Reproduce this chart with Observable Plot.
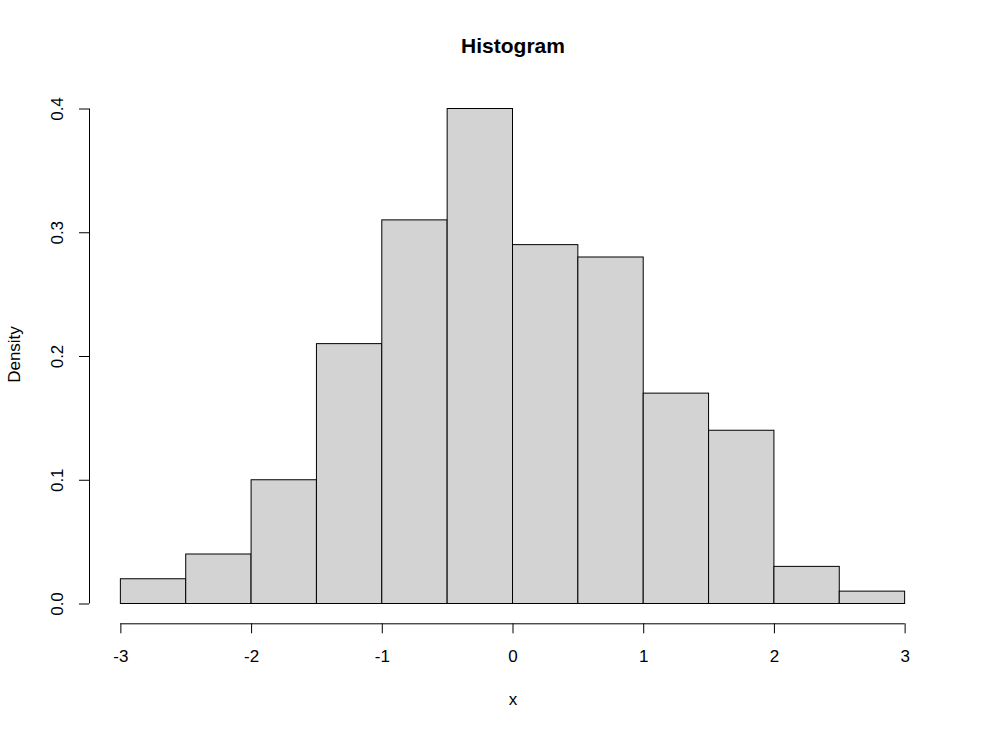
<!DOCTYPE html>
<html>
<head>
<meta charset="utf-8">
<script src="https://cdn.jsdelivr.net/npm/d3@7"></script>
<script src="https://cdn.jsdelivr.net/npm/@observablehq/plot@0.6"></script>
<style>
  html, body { margin: 0; padding: 0; background: white; }
</style>
</head>
<body>
<div id="chart"></div>
<script>
const binEdges = [-3, -2.5, -2, -1.5, -1, -0.5, 0, 0.5, 1, 1.5, 2, 2.5, 3];
const densities = [0.02, 0.04, 0.10, 0.21, 0.31, 0.40, 0.29, 0.28, 0.17, 0.14, 0.03, 0.01];
const xTicks = [-3, -2, -1, 0, 1, 2, 3];
const yTicks = [0, 0.1, 0.2, 0.3, 0.4];
const titleText = "Histogram";
const xLabel = "x";
const yLabel = "Density";

const bins = densities.map((d, i) => ({x1: binEdges[i], x2: binEdges[i + 1], density: d}));

// R-style 4% domain extension
const xMin = binEdges[0], xMax = binEdges[binEdges.length - 1];
const xPad = (xMax - xMin) * 0.04;
const yMaxT = yTicks[yTicks.length - 1];
const yPad = yMaxT * 0.04;
const xDomain = [xMin - xPad, xMax + xPad];
const yDomain = [0 - yPad, yMaxT + yPad];

const font = "'Liberation Sans', Arial, Helvetica, sans-serif";

const chart = Plot.plot({
  width: 981,
  height: 733,
  marginLeft: 89,
  marginRight: 45,
  marginTop: 88.7,
  marginBottom: 109.7,
  style: {fontFamily: font, fontSize: "17px", background: "white", color: "black"},
  x: {domain: xDomain, axis: null},
  y: {domain: yDomain, axis: null},
  marks: [
    Plot.rectY(bins, {x1: "x1", x2: "x2", y1: 0, y2: "density", fill: "#D3D3D3", stroke: "black", strokeWidth: 1, inset: 0}),
    // axis lines
    Plot.ruleY([yDomain[0]], {x1: xTicks[0], x2: xTicks[xTicks.length - 1], stroke: "black"}),
    Plot.ruleX([xDomain[0]], {y1: yTicks[0], y2: yTicks[yTicks.length - 1], stroke: "black"}),
    // ticks
    Plot.axisX(xTicks, {anchor: "bottom", tickSize: 10, tickFormat: () => "", label: null, stroke: "black"}),
    Plot.axisY(yTicks, {anchor: "left", tickSize: 10, tickFormat: () => "", label: null, stroke: "black"}),
    // tick labels
    Plot.text(xTicks, {x: d => d, text: d => String(d), frameAnchor: "bottom", dy: 33, lineAnchor: "middle", fontSize: 17, fill: "black"}),
    Plot.text(yTicks, {y: d => d, text: d => d.toFixed(1), frameAnchor: "left", dx: -31.5, rotate: -90, textAnchor: "middle", lineAnchor: "middle", fontSize: 17, fill: "black"}),
    // titles
    Plot.text([titleText], {text: d => d, frameAnchor: "top", dy: -42.5, lineAnchor: "middle", fontSize: 21, fontWeight: "bold", fill: "black"}),
    Plot.text([xLabel], {text: d => d, frameAnchor: "bottom", dy: 75.7, lineAnchor: "middle", fontSize: 17, fill: "black"}),
    Plot.text([yLabel], {text: d => d, frameAnchor: "left", dx: -75, dy: -2, rotate: -90, textAnchor: "middle", lineAnchor: "middle", fontSize: 17, fill: "black"})
  ]
});
document.getElementById("chart").appendChild(chart);
</script>
</body>
</html>
